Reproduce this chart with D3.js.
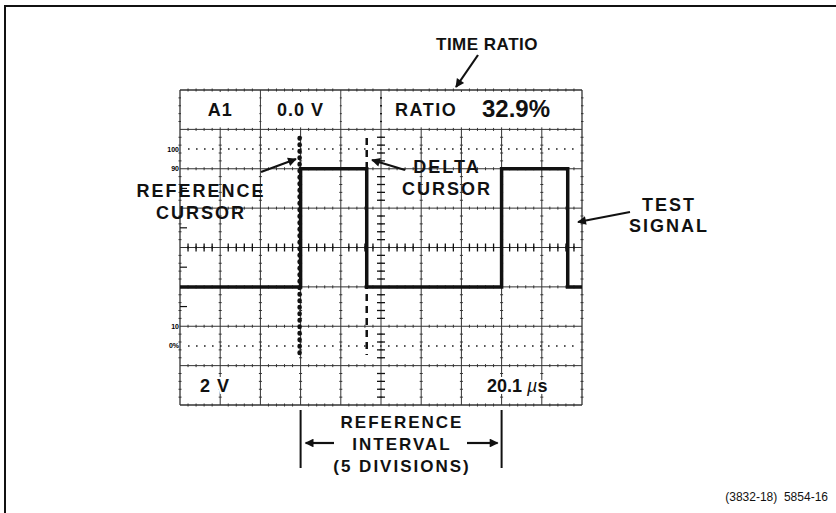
<!DOCTYPE html>
<html>
<head>
<meta charset="utf-8">
<script src="https://cdn.jsdelivr.net/npm/d3@7"></script>
<style>
  body { margin: 0; background: #fff; }
  text { font-family: "Liberation Sans", Arial, sans-serif; fill: #111; }
</style>
</head>
<body>
<div id="scope"></div>
<script>
// waveform data: edge positions (divisions) and levels (% of amplitude scale)
var edgeDiv = [0, 3, 4.645, 8, 9.645, 10];
var levelPct = [30, 90, 30, 90, 30];

// cursors (divisions)
var refCursorDiv = 3;
var deltaCursorDiv = 4.645;
var cursorSpanDiv = [1.22, 6.73];

// amplitude marks at left of graticule
var pctMarks = [100, 90, 10, 0];
var pctLabels = ["100", "90", "10", "0%"];

// on-screen readouts
var readTopText = ["A1", "0.0 V"];
var ratioLabel = "RATIO";
var ratioValue = "32.9%";
var voltsText = "2 V";
var timeValue = "20.1 ";
var timeUnit = ["\u00b5", "s"];

// set the dimensions
var width = 836, height = 513;

var svg = d3.select("#scope")
  .append("svg")
    .attr("width", width)
    .attr("height", height);

// scales: 10 horizontal, 8 vertical divisions
var x = d3.scaleLinear().domain([0, 10]).range([180, 582]);
var y = d3.scaleLinear().domain([0, 8]).range([90, 405]);
var yPct = d3.scaleLinear().domain([0, 100]).range([y(6.5), y(1.5)]);

// page frame
svg.append("path")
  .attr("d", "M5,520 V6 H840")
  .attr("fill", "none")
  .attr("stroke", "#111")
  .attr("stroke-width", 2);

// arrow head marker
svg.append("defs").append("marker")
    .attr("id", "head")
    .attr("viewBox", "0 0 10 10")
    .attr("refX", 9).attr("refY", 5)
    .attr("markerWidth", 6).attr("markerHeight", 4)
    .attr("markerUnits", "strokeWidth")
    .attr("orient", "auto")
  .append("path")
    .attr("d", "M0,0 L10,5 L0,10 z")
    .attr("fill", "#111");

var grid = svg.append("g");

// major graticule lines
grid.selectAll(".vline")
  .data(d3.range(0, 11))
  .enter()
  .append("line")
    .attr("x1", function(d) { return x(d); })
    .attr("x2", function(d) { return x(d); })
    .attr("y1", y(0))
    .attr("y2", y(8))
    .attr("stroke", "#333")
    .attr("stroke-width", function(d) { return d == 0 || d == 10 ? 1.3 : 1; });

grid.selectAll(".hline")
  .data(d3.range(0, 9))
  .enter()
  .append("line")
    .attr("x1", x(0))
    .attr("x2", x(10))
    .attr("y1", function(d) { return y(d); })
    .attr("y2", function(d) { return y(d); })
    .attr("stroke", "#333")
    .attr("stroke-width", function(d) { return d == 0 || d == 8 ? 1.3 : 1; });

// minor marks along every major line
var minorX = d3.range(0, 50).map(function(i) { return i / 5; }).filter(function(d) { return d % 1 != 0; });
var minorY = d3.range(0, 40).map(function(i) { return i / 5; }).filter(function(d) { return d % 1 != 0; });
d3.range(0, 9).forEach(function(row) {
  grid.selectAll(null)
    .data(minorX)
    .enter()
    .append("line")
      .attr("x1", function(d) { return x(d); })
      .attr("x2", function(d) { return x(d); })
      .attr("y1", y(row) - 1.5)
      .attr("y2", y(row) + 1.5)
      .attr("stroke", "#333");
});
d3.range(0, 11).forEach(function(col) {
  grid.selectAll(null)
    .data(minorY)
    .enter()
    .append("line")
      .attr("x1", x(col) - 1.5)
      .attr("x2", x(col) + 1.5)
      .attr("y1", function(d) { return y(d); })
      .attr("y2", function(d) { return y(d); })
      .attr("stroke", "#333");
});

// centre axis ticks
grid.selectAll(".cx")
  .data(minorX)
  .enter()
  .append("line")
    .attr("x1", function(d) { return x(d); })
    .attr("x2", function(d) { return x(d); })
    .attr("y1", y(4) - 4)
    .attr("y2", y(4) + 4)
    .attr("stroke", "#111")
    .attr("stroke-width", 1.3);
grid.selectAll(".cy")
  .data(minorY)
  .enter()
  .append("line")
    .attr("x1", x(5) - 4)
    .attr("x2", x(5) + 4)
    .attr("y1", function(d) { return y(d); })
    .attr("y2", function(d) { return y(d); })
    .attr("stroke", "#111")
    .attr("stroke-width", 1.3);

// half division marks on left edge
grid.selectAll(".lt")
  .data([2.5, 3.5, 4.5, 5.5])
  .enter()
  .append("line")
    .attr("x1", x(0))
    .attr("x2", x(0) + 7)
    .attr("y1", function(d) { return y(d); })
    .attr("y2", function(d) { return y(d); })
    .attr("stroke", "#111")
    .attr("stroke-width", 1.2);

// dotted 100% and 0% lines
grid.selectAll(".dot")
  .data([100, 0])
  .enter()
  .append("line")
    .attr("x1", x(0) + 8)
    .attr("x2", x(10) - 4)
    .attr("y1", function(d) { return yPct(d); })
    .attr("y2", function(d) { return yPct(d); })
    .attr("stroke", "#222")
    .attr("stroke-width", 1.6)
    .attr("stroke-dasharray", "1.6 6.4");

// amplitude labels
grid.selectAll(".pct")
  .data(pctMarks)
  .enter()
  .append("text")
    .attr("x", x(0) - 1)
    .attr("y", function(d) { return yPct(d) + 2.5; })
    .attr("text-anchor", "end")
    .style("font-size", "7px")
    .style("font-weight", "bold")
    .style("fill", "#000")
    .text(function(d, i) { return pctLabels[i]; });

// top readout row: blank the grid and draw cells
var topCells = [[0, 2], [2, 4], [4, 5], [5, 10]];
grid.selectAll(".tc")
  .data(topCells)
  .enter()
  .append("rect")
    .attr("x", function(d) { return x(d[0]) + 1; })
    .attr("y", y(0) + 2)
    .attr("width", function(d) { return x(d[1]) - x(d[0]) - 2; })
    .attr("height", y(1) - y(0) - 4)
    .attr("fill", "#fff");

svg.selectAll(".rt")
  .data(readTopText)
  .enter()
  .append("text")
    .attr("x", function(d, i) { return (x(topCells[i][0]) + x(topCells[i][1])) / 2; })
    .attr("y", y(0.5) + 6.5)
    .attr("text-anchor", "middle")
    .style("font-size", "18px")
    .style("font-weight", "bold")
    .style("letter-spacing", "1px")
    .text(function(d) { return d; });

svg.append("text")
  .attr("x", 395)
  .attr("y", y(0.5) + 6.5)
  .style("font-size", "18px")
  .style("font-weight", "bold")
  .style("letter-spacing", "1.5px")
  .text(ratioLabel);
svg.append("text")
  .attr("x", 482)
  .attr("y", y(0.5) + 7.5)
  .style("font-size", "24px")
  .style("font-weight", "bold")
  .text(ratioValue);

// bottom readouts
svg.append("text")
  .attr("x", 200)
  .attr("y", y(7.5) + 6.5)
  .style("font-size", "18px")
  .style("font-weight", "bold")
  .style("letter-spacing", "1px")
  .attr("stroke", "#fff")
  .attr("stroke-width", 4)
  .style("paint-order", "stroke")
  .text(voltsText);

var tv = svg.append("text")
  .attr("x", 487)
  .attr("y", y(7.5) + 6.5)
  .attr("xml:space", "preserve")
  .style("font-size", "18px")
  .style("font-weight", "bold")
  .attr("stroke", "#fff")
  .attr("stroke-width", 4)
  .style("paint-order", "stroke");
tv.append("tspan").text(timeValue);
tv.append("tspan").style("font-style", "italic").style("font-weight", "normal").text(timeUnit[0]);
tv.append("tspan").text(timeUnit[1]);

// test signal
var sigPts = [];
levelPct.forEach(function(lv, i) {
  sigPts.push([edgeDiv[i], lv]);
  sigPts.push([edgeDiv[i + 1], lv]);
});
svg.append("path")
  .datum(sigPts)
  .attr("fill", "none")
  .attr("stroke", "#111")
  .attr("stroke-width", 3.5)
  .attr("stroke-linejoin", "miter")
  .attr("d", d3.line()
    .x(function(d) { return x(d[0]); })
    .y(function(d) { return yPct(d[1]); }));

// reference cursor (intensified dots)
svg.append("line")
  .attr("x1", x(refCursorDiv) - 1)
  .attr("x2", x(refCursorDiv) - 1)
  .attr("y1", y(cursorSpanDiv[0]))
  .attr("y2", y(cursorSpanDiv[1]))
  .attr("stroke", "#111")
  .attr("stroke-width", 4.5)
  .attr("stroke-linecap", "round")
  .attr("stroke-dasharray", "0.5 6");

// delta cursor (dashed)
svg.append("line")
  .attr("x1", x(deltaCursorDiv))
  .attr("x2", x(deltaCursorDiv))
  .attr("y1", y(cursorSpanDiv[0]))
  .attr("y2", y(cursorSpanDiv[1]))
  .attr("stroke", "#111")
  .attr("stroke-width", 2.5)
  .attr("stroke-dasharray", "7 5");

// callouts
function label(lines, cx, y0, dy, size, spacing) {
  svg.selectAll(null)
    .data(lines)
    .enter()
    .append("text")
      .attr("x", cx)
      .attr("y", function(d, i) { return y0 + i * dy; })
      .attr("text-anchor", "middle")
      .style("font-size", size + "px")
      .style("font-weight", "bold")
      .style("letter-spacing", spacing + "px")
      .text(function(d) { return d; });
}
function arrow(x1, y1, x2, y2) {
  svg.append("line")
    .attr("x1", x1).attr("y1", y1)
    .attr("x2", x2).attr("y2", y2)
    .attr("stroke", "#111")
    .attr("stroke-width", 2.2)
    .attr("marker-end", "url(#head)");
}

label(["TIME RATIO"], 487, 50, 0, 17, 0.5);
arrow(478, 55, 456, 87);

label(["REFERENCE", "CURSOR"], 201, 197, 21.5, 18, 2);
arrow(261, 172, 296, 159);

label(["DELTA", "CURSOR"], 447, 173, 22, 18, 2);
arrow(405, 170, 372, 160);

label(["TEST", "SIGNAL"], 669, 211, 21, 18, 2);
arrow(630, 212, 578, 222);

label(["REFERENCE", "INTERVAL", "(5 DIVISIONS)"], 402, 428, 22, 17, 2);
svg.selectAll(".bar")
  .data([refCursorDiv, 8])
  .enter()
  .append("line")
    .attr("x1", function(d) { return x(d); })
    .attr("x2", function(d) { return x(d); })
    .attr("y1", 410)
    .attr("y2", 468)
    .attr("stroke", "#111")
    .attr("stroke-width", 2);
arrow(334, 443, x(refCursorDiv) + 5, 443);
arrow(467, 443, x(8) - 4, 443);

svg.append("text")
  .attr("x", 828)
  .attr("y", 501)
  .attr("text-anchor", "end")
  .style("font-size", "12px")
  .attr("xml:space", "preserve")
  .text("(3832-18)  5854-16");
</script>
</body>
</html>
